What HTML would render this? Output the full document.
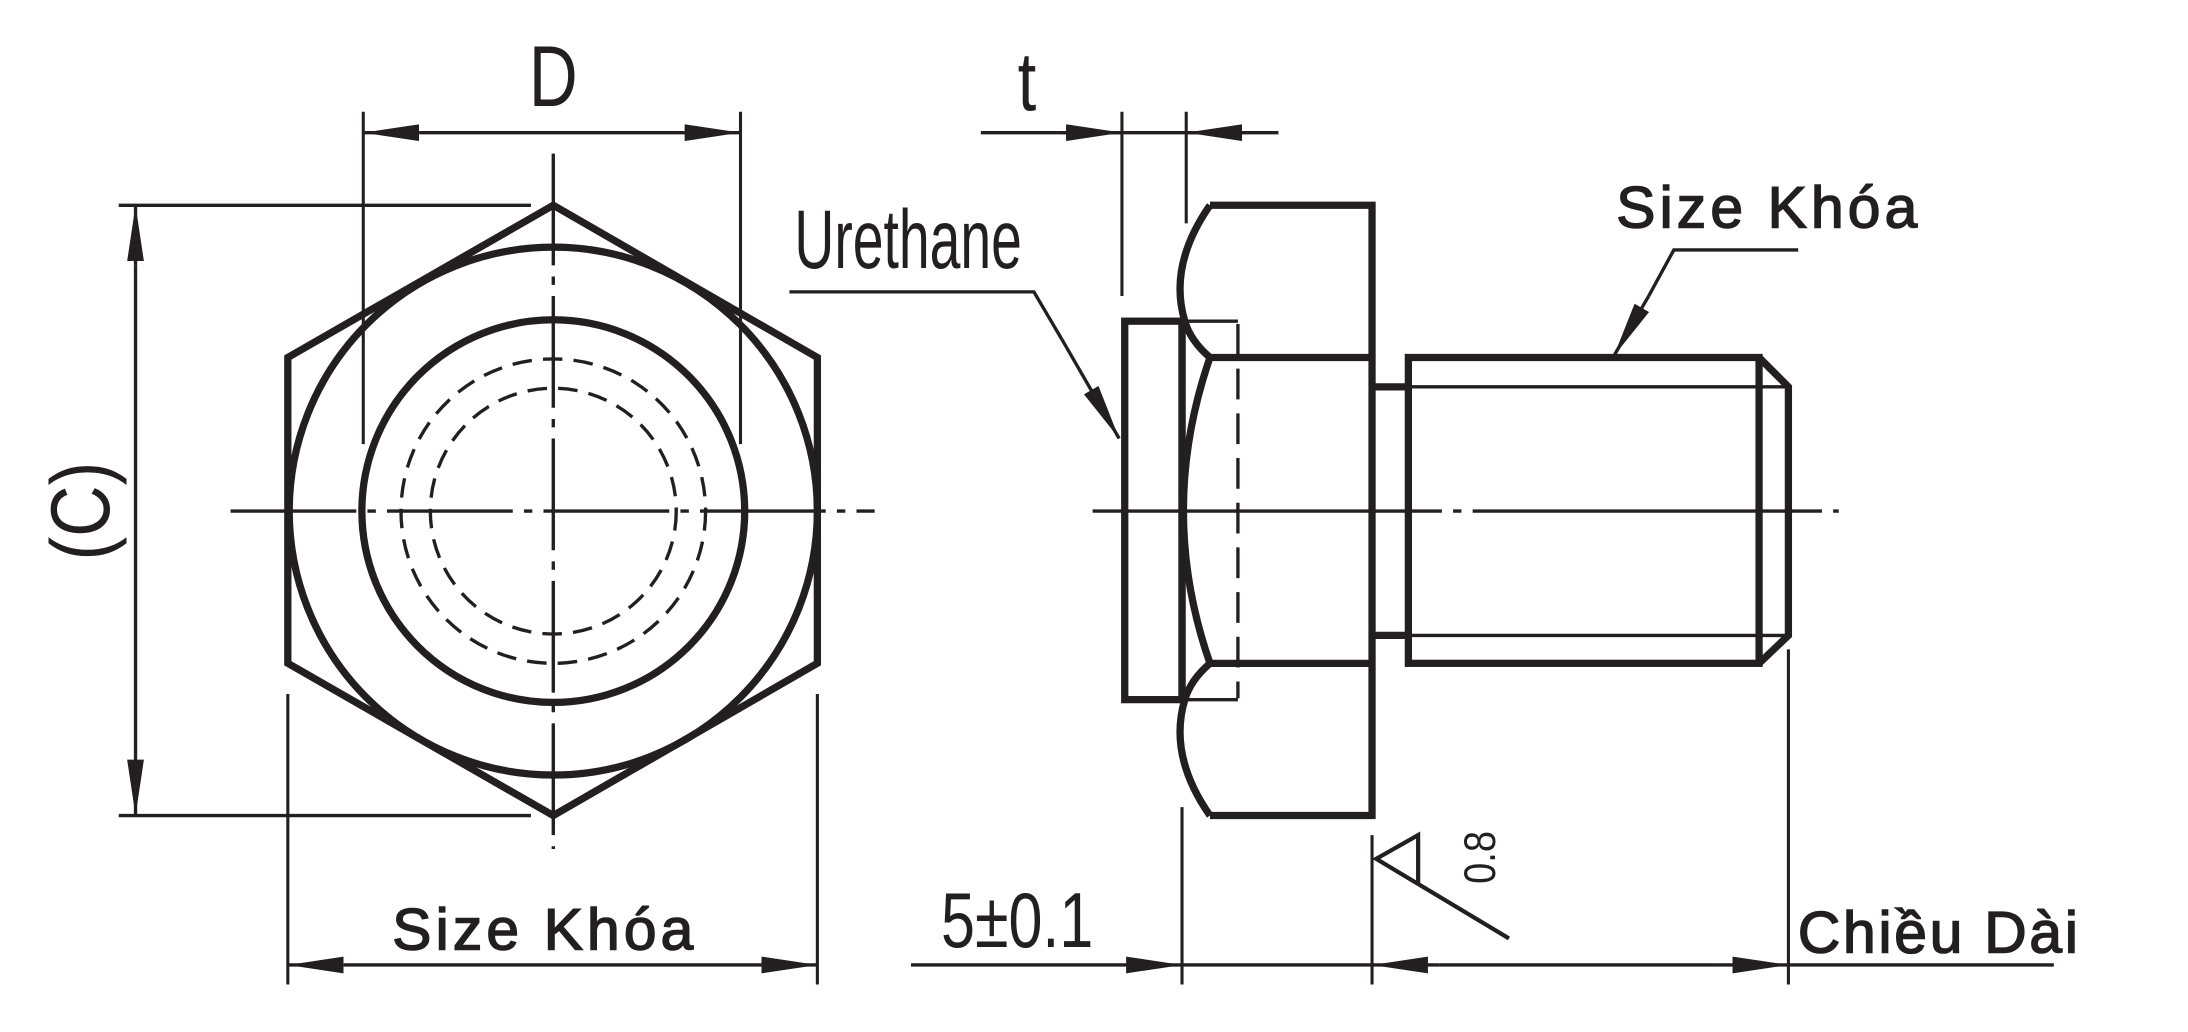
<!DOCTYPE html>
<html><head><style>
html,body{margin:0;padding:0;background:#fff;}
svg{display:block;}
text{font-family:"Liberation Sans",sans-serif;fill:#231f20;}
</style></head><body>
<svg width="2188" height="1032" viewBox="0 0 1566 739" preserveAspectRatio="none" xmlns="http://www.w3.org/2000/svg">
<defs>
<marker id="a" viewBox="0 0 40 12" refX="40" refY="6" markerWidth="40" markerHeight="12" markerUnits="userSpaceOnUse" orient="auto-start-reverse"><path d="M0,0 L40,6 L0,12 Z" fill="#231f20"/></marker>
</defs>
<g stroke="#231f20" fill="none">
<!-- LEFT VIEW -->
<polygon points="396,147 585,256 585,475 396,584 206,475 206,256" stroke-width="5.2"/>
<circle cx="396" cy="366" r="189" stroke-width="5.2"/>
<circle cx="396" cy="366" r="137" stroke-width="5.2"/>
<circle cx="396" cy="366" r="109" stroke-width="2.4" stroke-dasharray="14,8"/>
<circle cx="396" cy="366" r="88" stroke-width="2.4" stroke-dasharray="14,8"/>
<line x1="165" y1="366" x2="626" y2="366" stroke-width="2.4" stroke-dasharray="90,8,6,8"/>
<line x1="396" y1="110" x2="396" y2="608" stroke-width="2.4" stroke-dasharray="80,8,6,8"/>
<!-- D dim -->
<line x1="260" y1="80" x2="260" y2="318" stroke-width="2.2"/>
<line x1="530" y1="80" x2="530" y2="318" stroke-width="2.2"/>
<line x1="300" y1="95" x2="490" y2="95" stroke-width="2.4"/>
<line x1="300" y1="95" x2="260" y2="95" stroke-width="2.4" marker-end="url(#a)"/>
<line x1="490" y1="95" x2="530" y2="95" stroke-width="2.4" marker-end="url(#a)"/>
<!-- C dim -->
<line x1="85" y1="147" x2="380" y2="147" stroke-width="2.4"/>
<line x1="85" y1="584" x2="380" y2="584" stroke-width="2.4"/>
<line x1="97" y1="190" x2="97" y2="540" stroke-width="2.4"/>
<line x1="97" y1="190" x2="97" y2="147" stroke-width="2.4" marker-end="url(#a)"/>
<line x1="97" y1="540" x2="97" y2="584" stroke-width="2.4" marker-end="url(#a)"/>
<!-- size khoa bottom -->
<line x1="206" y1="497" x2="206" y2="705" stroke-width="2.2"/>
<line x1="585" y1="497" x2="585" y2="705" stroke-width="2.2"/>
<line x1="246" y1="691" x2="545" y2="691" stroke-width="2.4"/>
<line x1="246" y1="691" x2="206" y2="691" stroke-width="2.4" marker-end="url(#a)"/>
<line x1="545" y1="691" x2="585" y2="691" stroke-width="2.4" marker-end="url(#a)"/>

<!-- RIGHT VIEW -->
<rect x="805" y="230" width="41" height="271" stroke-width="5.2"/>
<line x1="846" y1="230" x2="846" y2="501" stroke-width="5.2"/>
<path d="M866,147 L982,147 L982,584 L866,584" stroke-width="5.2"/>
<line x1="866" y1="256" x2="982" y2="256" stroke-width="5.2"/>
<line x1="866" y1="475" x2="982" y2="475" stroke-width="5.2"/>
<path d="M866,147 Q836,190 848,230 Q852,244 866,256" stroke-width="5.2"/>
<path d="M866,584 Q836,541 848,501 Q852,487 866,475" stroke-width="5.2"/>
<path d="M866,256 Q828,366 866,475" stroke-width="5.2"/>
<line x1="886" y1="232" x2="886" y2="500" stroke-width="2.4" stroke-dasharray="22,10"/>
<line x1="846" y1="230" x2="886" y2="230" stroke-width="2.4"/>
<line x1="846" y1="501" x2="886" y2="501" stroke-width="2.4"/>
<!-- neck & shaft -->
<line x1="982" y1="277" x2="1008" y2="277" stroke-width="5.2"/>
<line x1="982" y1="455" x2="1008" y2="455" stroke-width="5.2"/>
<rect x="1008" y="256" width="251" height="219" stroke-width="5.2"/>
<path d="M1259,256 L1280,277 L1280,455 L1259,475" stroke-width="5.2"/>
<line x1="1008" y1="277" x2="1280" y2="277" stroke-width="2.4"/>
<line x1="1008" y1="455" x2="1280" y2="455" stroke-width="2.4"/>
<line x1="782" y1="366" x2="1316" y2="366" stroke-width="2.4" stroke-dasharray="250,8,6,8"/>
<!-- t dim -->
<line x1="803" y1="80" x2="803" y2="212" stroke-width="2.2"/>
<line x1="849" y1="80" x2="849" y2="160" stroke-width="2.2"/>
<line x1="702" y1="95" x2="915" y2="95" stroke-width="2.4"/>
<line x1="760" y1="95" x2="803" y2="95" stroke-width="2.4" marker-end="url(#a)"/>
<line x1="892" y1="95" x2="849" y2="95" stroke-width="2.4" marker-end="url(#a)"/>
<!-- urethane leader -->
<polyline points="565,209 740,209 760,243" stroke-width="2.4"/>
<line x1="760" y1="243" x2="801" y2="314" stroke-width="2.4" marker-end="url(#a)"/>
<!-- size khoa top leader -->
<polyline points="1287,179 1198,179 1180,212" stroke-width="2.4"/>
<line x1="1180" y1="212" x2="1155" y2="255" stroke-width="2.4" marker-end="url(#a)"/>
<!-- bottom dims -->
<line x1="846" y1="578" x2="846" y2="705" stroke-width="2.2"/>
<line x1="982" y1="598" x2="982" y2="705" stroke-width="2.2"/>
<line x1="1280" y1="465" x2="1280" y2="705" stroke-width="2.2"/>
<line x1="652" y1="691" x2="846" y2="691" stroke-width="2.4" marker-end="url(#a)"/>
<line x1="846" y1="691" x2="982" y2="691" stroke-width="2.4"/>
<line x1="1030" y1="691" x2="1230" y2="691" stroke-width="2.4"/>
<line x1="1030" y1="691" x2="982" y2="691" stroke-width="2.4" marker-end="url(#a)"/>
<line x1="1230" y1="691" x2="1280" y2="691" stroke-width="2.4" marker-end="url(#a)"/>
<line x1="1280" y1="691" x2="1470" y2="691" stroke-width="2.4"/>
<!-- roughness -->
<polyline points="1015,633 1015,598 985,615 1080,672" stroke-width="3"/>
</g>
<g>
<text x="396" y="76" font-size="62" text-anchor="middle" transform="translate(396 0) scale(0.78 1) translate(-396 0)">D</text>
<text x="735" y="79" font-size="60" text-anchor="middle" transform="translate(735 0) scale(0.8 1) translate(-735 0)">t</text>
<text x="0" y="0" font-size="60" text-anchor="middle" transform="translate(78 366) rotate(-90) scale(0.85 1)">(C)</text>
<text x="390" y="680" font-size="42" text-anchor="middle" letter-spacing="3" stroke="#231f20" stroke-width="1.1">Size Khóa</text>
<text x="1266" y="163" font-size="42" text-anchor="middle" letter-spacing="3" stroke="#231f20" stroke-width="1.1">Size Khóa</text>
<text x="650" y="192" font-size="60" text-anchor="middle" transform="translate(650 0) scale(0.66 1) translate(-650 0)">Urethane</text>
<text x="728" y="678" font-size="56" text-anchor="middle" transform="translate(728 0) scale(0.78 1) translate(-728 0)">5±0.1</text>
<text x="1388" y="682" font-size="42" text-anchor="middle" letter-spacing="2" stroke="#231f20" stroke-width="1.1">Chiều Dài</text>
<text x="0" y="0" font-size="32" text-anchor="middle" transform="translate(1070 614) rotate(-90) scale(0.85 1)">0.8</text>
</g>
</svg>
</body></html>
